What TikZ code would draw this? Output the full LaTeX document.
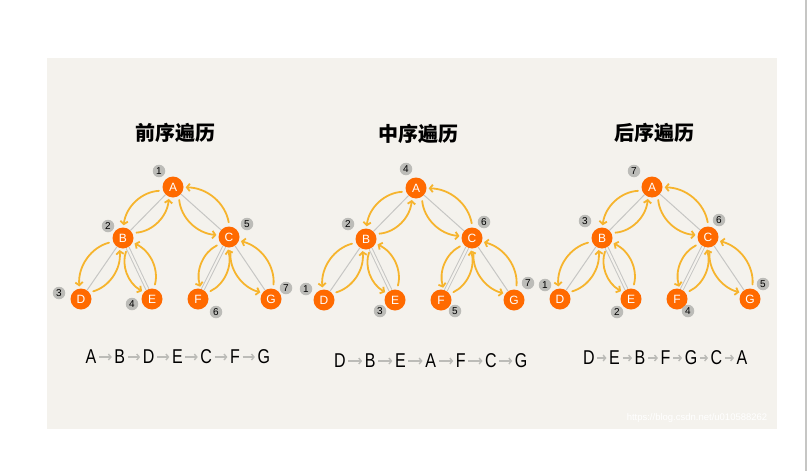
\documentclass[tikz,border=0pt]{standalone}
\usepackage{fontspec}
\setmainfont{Liberation Sans}
\newfontfamily\cjk{Noto Sans CJK SC}
\usetikzlibrary{arrows.meta}
\definecolor{bgpaper}{HTML}{F4F2ED}
\definecolor{nodeorange}{HTML}{FF6A00}
\definecolor{walkyellow}{HTML}{F6B42D}
\definecolor{edgegray}{HTML}{C6C6C4}
\definecolor{taggray}{HTML}{BCBCB8}
\begin{document}
\begin{tikzpicture}[x=1pt,y=1pt,
  tnode/.style={circle,fill=nodeorange,text=white,minimum size=21pt,inner sep=0pt,font=\fontsize{12}{12}\selectfont},
  numtag/.style={circle,fill=taggray,minimum size=12.5pt,inner sep=0pt,font=\fontsize{10}{10}\selectfont},
  treeline/.style={draw=edgegray,line width=1pt},
  dtreeline/.style={treeline,double=bgpaper,double distance=2pt},
  walk/.style={draw=walkyellow,line width=1.8pt,line cap=round,-{Straight Barb[length=3pt,width=7.5pt]},
    bend right=40,shorten <=4pt,shorten >=2pt},
  headline/.style={font=\cjk\bfseries\fontsize{20}{20}\selectfont},
  seqltr/.style={font=\fontsize{20}{20}\selectfont,inner sep=1pt},
  seqarrow/.style={draw=taggray,line width=1.4pt,-{Straight Barb[length=2.5pt,width=6pt]},shorten <=1.5pt,shorten >=1.5pt}]
\useasboundingbox (0,0) rectangle (808,-471);
\fill[bgpaper] (47,-58) rectangle (777,-429);
\draw[edgegray,line width=2pt] (806,0) -- (806,-471);
% one panel per traversal order
\foreach \ax/\ay/\ttl/\tags/\seq/\sx/\sy/\st [count=\i] in {
  173/-187/前序遍历/{A/1/-14/16,B/2/-15/12,C/5/18/13,D/3/-22/6,E/4/-20/-5,F/6/18/-13,G/7/15/11}/{A,B,D,E,C,F,G}/91/-357/28.8,
  416/-188/中序遍历/{A/4/-10/19,B/2/-18/15,C/6/12/16,D/1/-18/11,E/3/-15/-11,F/5/14/-11,G/7/14/17}/{D,B,E,A,F,C,G}/340/-361/30.2,
  652/-187/后序遍历/{A/7/-18/16,B/3/-17/17,C/6/11/17,D/1/-15/14,E/2/-14/-13,F/4/11/-12,G/5/13/15}/{D,E,B,F,G,C,A}/589/-358/25.5}
{
  \begin{scope}[shift={(\ax,\ay)}]
    \node[headline] (h\i) at (2,54) {\ttl};
    \foreach \n/\x/\y in {A/0/0,B/-50/-51,C/56/-50,D/-92/-112,E/-21/-112,F/25/-112,G/98/-112}
      \node[tnode] (p\i\n) at (\x,\y) {\n};
  \end{scope}
  \foreach \n/\k/\dx/\dy in \tags
    \node[numtag] (t\i\n) at ([shift={(\dx,\dy)}]p\i\n.center) {\k};
  % tree edges
  \foreach \u/\v in {A/B,A/C,B/D,C/G}
    \draw[treeline] (p\i\u) -- (p\i\v);
  \foreach \u/\v in {B/E,C/F}
    \draw[dtreeline] (p\i\u) -- (p\i\v);
  % walk down and back up
  \foreach \u/\v/\a/\b/\c/\d in {A/B/200/88/28/248,A/C/303/170/88/358,B/D/200/98/38/250,
                                  B/E/294/140/80/335,C/F/218/75/35/262,C/G/280/145/78/340}
  {
    \draw[walk] (p\i\u.\a) to (p\i\v.\b);
    \draw[walk] (p\i\v.\c) to (p\i\u.\d);
  }
  % visiting order
  \foreach \l [count=\j] in \seq
    \node[seqltr] (s\i\j) at ({\sx+(\j-1)*\st},\sy) {\scalebox{.8}[1]{\l}};
  \foreach \j [evaluate=\j as \k using int(\j+1)] in {1,...,6}
    \draw[seqarrow] (s\i\j) -- (s\i\k);
}
\node[text=white,font=\fontsize{9.5}{9.5}\selectfont] (mark) at (697,-418) {https://blog.csdn.net/u010588262};
\end{tikzpicture}
\end{document}
